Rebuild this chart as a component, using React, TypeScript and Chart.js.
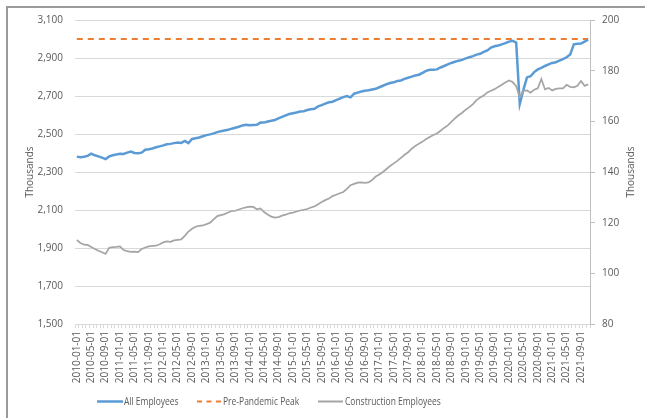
import React, { useEffect, useRef } from "react";
import { Chart, registerables } from "chart.js";

Chart.register(...registerables);

// ---- Data ----
const startYear = 2010;
const monthCount = 143; // 2010-01 .. 2021-11
const categories: string[] = [];
for (let i = 0; i < monthCount; i++) {
  const y = startYear + Math.floor(i / 12);
  const m = (i % 12) + 1;
  categories.push(`${y}-${m < 10 ? "0" + m : m}-01`);
}

const allEmployees: number[] = [
  2381, 2378, 2380, 2385, 2397, 2388, 2382, 2376, 2368, 2382, 2388, 2392,
  2396, 2395, 2402, 2408, 2400, 2399, 2402, 2417, 2420, 2424, 2430, 2435,
  2440, 2446, 2448, 2452, 2455, 2453, 2464, 2452, 2474, 2478, 2482, 2488,
  2494, 2498, 2503, 2510, 2514, 2518, 2522, 2528, 2533, 2538, 2545, 2549,
  2546, 2547, 2548, 2560, 2560, 2566, 2570, 2574, 2582, 2590, 2598, 2605,
  2609, 2613, 2618, 2620, 2626, 2630, 2633, 2645, 2652, 2660, 2667, 2670,
  2678, 2686, 2694, 2700, 2693, 2712, 2718, 2724, 2728, 2730, 2734, 2738,
  2746, 2754, 2762, 2768, 2772, 2779, 2782, 2790, 2796, 2802, 2808, 2812,
  2822, 2832, 2838, 2838, 2840, 2850, 2858, 2866, 2874, 2880, 2886, 2890,
  2898, 2904, 2910, 2918, 2922, 2932, 2940, 2955, 2962, 2966, 2972, 2978,
  2986, 2991, 2981, 2658, 2732, 2798, 2804, 2826, 2840, 2848, 2858, 2866,
  2874, 2878, 2886, 2894, 2904, 2918, 2972, 2975, 2976, 2986, 2996,
];

const constructionEmployees: number[] = [
  113.2, 112.0, 111.3, 111.2, 110.4, 109.6, 108.9, 108.3, 107.7, 110.1, 110.3, 110.4,
  110.6, 109.2, 108.8, 108.5, 108.6, 108.4, 109.6, 110.2, 110.6, 110.8, 110.9, 111.5,
  112.2, 112.6, 112.4, 113.0, 113.2, 113.4, 114.8, 116.5, 117.6, 118.4, 118.7, 118.9,
  119.4, 120.0, 121.3, 122.6, 123.0, 123.4, 124.0, 124.6, 124.7, 125.2, 125.7, 126.0,
  126.3, 126.2, 125.3, 125.6, 124.2, 123.2, 122.4, 122.0, 122.2, 122.8, 123.2, 123.7,
  124.0, 124.4, 124.8, 125.1, 125.4, 126.0, 126.4, 127.3, 128.2, 128.9, 129.5, 130.5,
  131.0, 131.6, 132.1, 133.3, 134.8, 135.3, 135.8, 135.9, 135.7, 135.9, 136.8, 138.2,
  139.0, 140.0, 141.2, 142.4, 143.4, 144.4, 145.6, 146.8, 147.8, 149.2, 150.3, 151.2,
  152.0, 153.0, 153.8, 154.6, 155.2, 156.3, 157.4, 158.4, 159.8, 161.2, 162.4, 163.4,
  164.6, 165.6, 166.8, 168.4, 169.4, 170.2, 171.4, 172.1, 172.7, 173.6, 174.4, 175.3,
  176.1, 175.5, 173.9, 169.6, 172.1, 172.2, 171.3, 172.5, 173.0, 176.7, 172.6, 173.2,
  172.2, 172.8, 173.0, 173.0, 174.4, 173.6, 173.4, 174.0, 175.9, 174.0, 174.6,
];

const prePandemicPeak = 3000;

const leftAxisMin = 1500;
const leftAxisMax = 3100;
const leftAxisStep = 200;
const rightAxisMin = 80;
const rightAxisMax = 200;
const rightAxisStep = 20;

const seriesNames = ["All Employees", "Pre-Pandemic Peak", "Construction Employees"];
const seriesColors = ["#5B9BD5", "#ED7D31", "#A5A5A5"];

const FONT_FAMILY = "'Open Sans', 'Noto Sans', sans-serif";
const TEXT_COLOR = "#595959";
const GRID_COLOR = "#d9d9d9";

const rightTitlePlugin = {
  id: "rightTitle",
  afterDraw(chart: any) {
    const { ctx, chartArea } = chart;
    ctx.save();
    ctx.translate(chart.width - 14, (chartArea.top + chartArea.bottom) / 2);
    ctx.rotate(-Math.PI / 2);
    ctx.font = `10px ${FONT_FAMILY}`;
    ctx.fillStyle = TEXT_COLOR;
    ctx.textAlign = "center";
    ctx.textBaseline = "middle";
    ctx.fillText("Thousands", 0, 0);
    ctx.restore();
  },
};

export default function App() {
  const canvasRef = useRef<HTMLCanvasElement | null>(null);

  useEffect(() => {
    if (!canvasRef.current) return;
    const chart = new Chart(canvasRef.current, {
      type: "line",
      data: {
        labels: categories,
        datasets: [
          {
            label: seriesNames[0],
            data: allEmployees,
            borderColor: seriesColors[0],
            backgroundColor: seriesColors[0],
            borderWidth: 2.5,
            pointRadius: 0,
            yAxisID: "y",
            order: 2,
          },
          {
            label: seriesNames[1],
            data: categories.map(() => prePandemicPeak),
            borderColor: seriesColors[1],
            backgroundColor: seriesColors[1],
            borderWidth: 2,
            borderDash: [6, 5],
            pointRadius: 0,
            yAxisID: "y",
            order: 3,
          },
          {
            label: seriesNames[2],
            data: constructionEmployees,
            borderColor: seriesColors[2],
            backgroundColor: seriesColors[2],
            borderWidth: 1.75,
            pointRadius: 0,
            yAxisID: "y1",
            order: 1,
          },
        ],
      },
      options: {
        animation: false,
        responsive: false,
        maintainAspectRatio: false,
        layout: { padding: { left: 20, right: 3, top: 20, bottom: 0 } },
        plugins: {
          legend: { display: false },
          tooltip: { enabled: false },
        },
        elements: { line: { tension: 0 }, point: { radius: 0 } },
        scales: {
          x: {
            type: "category",
            offset: true,
            grid: {
              display: true,
              offset: true,
              drawOnChartArea: false,
              drawTicks: true,
              tickLength: 4,
              color: GRID_COLOR,
            },
            border: { display: true, color: GRID_COLOR },
            ticks: {
              autoSkip: false,
              minRotation: 90,
              maxRotation: 90,
              padding: 3,
              color: TEXT_COLOR,
              font: { family: FONT_FAMILY, size: 10 },
              callback: (_v: any, i: number) => (i % 4 === 0 ? categories[i] : ""),
            },
            afterFit: (s: any) => {
              s.height = 94;
            },
          },
          y: {
            type: "linear",
            position: "left",
            min: leftAxisMin,
            max: leftAxisMax,
            ticks: {
              stepSize: leftAxisStep,
              padding: 12,
              color: TEXT_COLOR,
              font: { family: FONT_FAMILY, size: 10 },
              callback: (v: any) => Number(v).toLocaleString("en-US"),
            },
            grid: { color: GRID_COLOR, drawTicks: false },
            border: { display: false },
            title: {
              display: true,
              text: "Thousands",
              color: TEXT_COLOR,
              font: { family: FONT_FAMILY, size: 10 },
            },
            afterFit: (s: any) => {
              s.width = 55;
            },
          },
          y1: {
            type: "linear",
            position: "right",
            min: rightAxisMin,
            max: rightAxisMax,
            ticks: {
              stepSize: rightAxisStep,
              padding: 7,
              color: TEXT_COLOR,
              font: { family: FONT_FAMILY, size: 10 },
            },
            grid: {
              drawOnChartArea: false,
              drawTicks: true,
              tickLength: 5,
              color: "#bfbfbf",
            },
            border: { display: true, color: "#bfbfbf" },
            afterFit: (s: any) => {
              s.width = 52;
            },
          },
        },
      },
      plugins: [rightTitlePlugin],
    } as any);
    return () => chart.destroy();
  }, []);

  const legendText: React.CSSProperties = {
    position: "absolute",
    top: 393,
    fontFamily: FONT_FAMILY,
    fontSize: 11,
    color: TEXT_COLOR,
    lineHeight: "16px",
    whiteSpace: "nowrap",
    transform: "scaleX(0.77)",
    transformOrigin: "left center",
  };

  return (
    <div
      style={{
        position: "fixed",
        left: 0,
        top: 0,
        width: 645,
        height: 418,
        background: "#ffffff",
        overflow: "hidden",
      }}
    >
      <canvas ref={canvasRef} width={645} height={418} style={{ display: "block", position: "absolute", left: 0, top: 0 }} />
      <div
        style={{
          position: "absolute",
          left: 6,
          top: 6,
          width: 700,
          height: 500,
          borderLeft: "2px solid #9a9a9a",
          borderTop: "2px solid #9a9a9a",
        }}
      />
      <svg style={{ position: "absolute", left: 0, top: 395 }} width={645} height={14}>
        <line x1={97} y1={6.5} x2={123} y2={6.5} stroke={seriesColors[0]} strokeWidth={2.5} />
        <line x1={197} y1={6.5} x2={221} y2={6.5} stroke={seriesColors[1]} strokeWidth={2} strokeDasharray="5 4.5" />
        <line x1={318} y1={6.5} x2={343} y2={6.5} stroke={seriesColors[2]} strokeWidth={2} />
      </svg>
      <span style={{ ...legendText, left: 124 }}>{seriesNames[0]}</span>
      <span style={{ ...legendText, left: 223 }}>{seriesNames[1]}</span>
      <span style={{ ...legendText, left: 345 }}>{seriesNames[2]}</span>
    </div>
  );
}
